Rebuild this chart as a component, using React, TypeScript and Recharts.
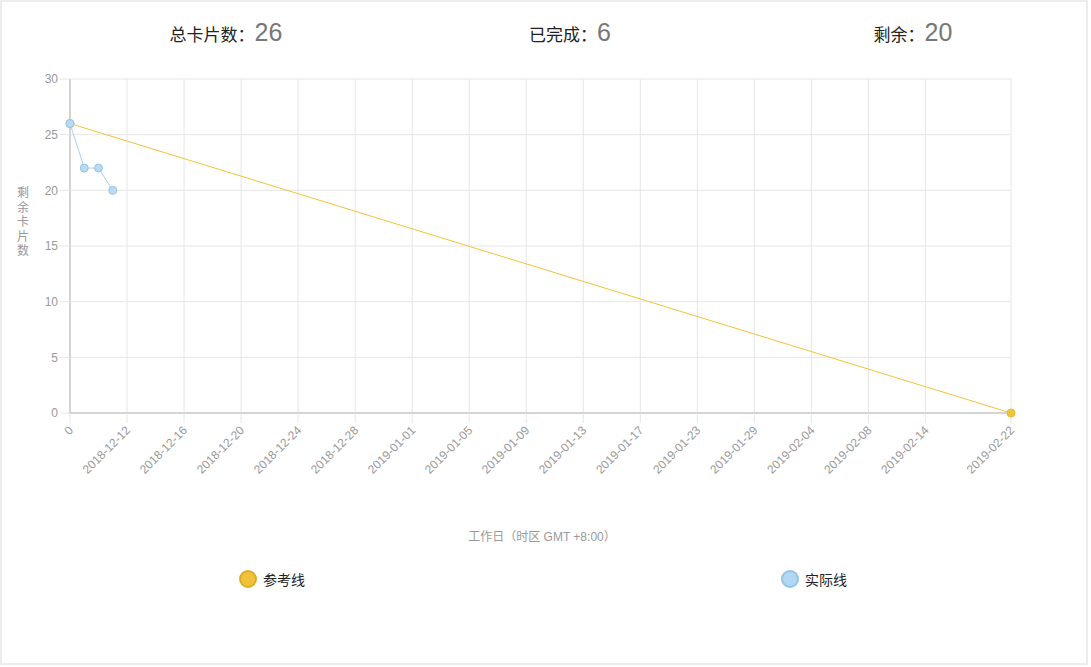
import * as React from "react";
import { LineChart, Line, XAxis, YAxis, CartesianGrid } from "recharts";

// 工作日 categories (first entry is the start point "0")
const days = [
  "0", "2018-12-09", "2018-12-10", "2018-12-11", "2018-12-12", "2018-12-13", "2018-12-14",
  "2018-12-15", "2018-12-16", "2018-12-17", "2018-12-18", "2018-12-19", "2018-12-20",
  "2018-12-21", "2018-12-22", "2018-12-23", "2018-12-24", "2018-12-25", "2018-12-26",
  "2018-12-27", "2018-12-28", "2018-12-29", "2018-12-30", "2018-12-31", "2019-01-01",
  "2019-01-02", "2019-01-03", "2019-01-04", "2019-01-05", "2019-01-06", "2019-01-07",
  "2019-01-08", "2019-01-09", "2019-01-10", "2019-01-11", "2019-01-12", "2019-01-13",
  "2019-01-14", "2019-01-15", "2019-01-16", "2019-01-17", "2019-01-18", "2019-01-21",
  "2019-01-22", "2019-01-23", "2019-01-24", "2019-01-25", "2019-01-28", "2019-01-29",
  "2019-01-30", "2019-01-31", "2019-02-01", "2019-02-04", "2019-02-05", "2019-02-06",
  "2019-02-07", "2019-02-08", "2019-02-11", "2019-02-12", "2019-02-13", "2019-02-14",
  "2019-02-15", "2019-02-18", "2019-02-19", "2019-02-20", "2019-02-21", "2019-02-22",
];

const shownTicks = [
  "0", "2018-12-12", "2018-12-16", "2018-12-20", "2018-12-24", "2018-12-28",
  "2019-01-01", "2019-01-05", "2019-01-09", "2019-01-13", "2019-01-17", "2019-01-23",
  "2019-01-29", "2019-02-04", "2019-02-08", "2019-02-14", "2019-02-22",
];

// 参考线: start and end only
const referencePoints: Record<string, number> = { "0": 26, "2019-02-22": 0 };
// 实际线: remaining cards on the first days
const actualValues = [26, 22, 22, 20];

const yTicks = [0, 5, 10, 15, 20, 25, 30];

const stats = [
  { label: "总卡片数：", value: 26, x: 224 },
  { label: "已完成：", value: 6, x: 568 },
  { label: "剩余：", value: 20, x: 911 },
];

const REF_COLOR = "#f0c33c";
const ACT_COLOR = "#a9d2f2";
const FONT = '"Liberation Sans", Arial, "Noto Sans CJK SC", sans-serif';

const data = days.map((d, i) => ({
  day: d,
  ref: referencePoints[d],
  actual: i < actualValues.length ? actualValues[i] : undefined,
}));

const XTick = (props: any) => {
  const { x, y, payload } = props;
  return (
    <text
      x={x + 4}
      y={y + 6}
      transform={`rotate(-45 ${x + 4} ${y + 6})`}
      textAnchor="end"
      fontSize={12}
      fill="#999"
      fontFamily={FONT}
    >
      {payload.value}
    </text>
  );
};

const App: React.FC = () => {
  return (
    <div
      style={{
        position: "absolute",
        left: 0,
        top: 0,
        width: 1088,
        height: 665,
        border: "2px solid #ececec",
        boxSizing: "border-box",
        background: "#fff",
        fontFamily: FONT,
      }}
    >
      {stats.map((s) => (
        <div
          key={s.label}
          style={{
            position: "absolute",
            left: s.x - 150,
            width: 300,
            top: 16,
            textAlign: "center",
            whiteSpace: "nowrap",
          }}
        >
          <span style={{ fontSize: 17, color: "#222" }}>{s.label}</span>
          <span style={{ fontSize: 25, color: "#777" }}>{s.value}</span>
        </div>
      ))}

      <div
        style={{
          position: "absolute",
          left: 14,
          top: 184,
          width: 14,
          fontSize: 12,
          lineHeight: "14.5px",
          color: "#999",
          textAlign: "center",
        }}
      >
        {"剩余卡片数".split("").map((c, i) => (
          <div key={i}>{c}</div>
        ))}
      </div>

      <div style={{ position: "absolute", left: -1, top: -2 }}>
        <LineChart
          width={1091}
          height={520}
          data={data}
          margin={{ top: 79, right: 81, bottom: 17, left: 0 }}
        >
          <CartesianGrid stroke="#e6e6e6" strokeWidth={1} />
          <XAxis
            dataKey="day"
            ticks={shownTicks}
            interval={0}
            height={90}
            tick={<XTick />}
            tickSize={10}
            tickLine={{ stroke: "#e6e6e6" }}
            axisLine={{ stroke: "#b5b5b5" }}
          />
          <YAxis
            domain={[0, 30]}
            ticks={yTicks}
            width={69}
            tickSize={10}
            tickMargin={2}
            tickLine={{ stroke: "#e6e6e6" }}
            axisLine={{ stroke: "#b5b5b5" }}
            tick={{ fontSize: 12, fill: "#999", fontFamily: FONT }}
          />
          <Line
            dataKey="ref"
            stroke={REF_COLOR}
            strokeWidth={1}
            connectNulls
            dot={{ r: 4, fill: REF_COLOR, stroke: "#e8b830", strokeWidth: 1 }}
            isAnimationActive={false}
          />
          <Line
            dataKey="actual"
            stroke={ACT_COLOR}
            strokeWidth={1}
            dot={{ r: 4, fill: "#b8dbf5", stroke: "#96c4ea", strokeWidth: 1 }}
            isAnimationActive={false}
          />
        </LineChart>
      </div>

      <div
        style={{
          position: "absolute",
          left: 0,
          width: 1080,
          top: 525,
          textAlign: "center",
          fontSize: 12,
          color: "#999",
        }}
      >
        工作日（时区 GMT +8:00）
      </div>

      {[
        { name: "参考线", color: "#efc23a", border: "#dcae28", x: 237 },
        { name: "实际线", color: "#b3d8f4", border: "#93c2e8", x: 779 },
      ].map((l) => (
        <div
          key={l.name}
          style={{
            position: "absolute",
            left: l.x,
            top: 567,
            display: "flex",
            alignItems: "center",
            fontSize: 14,
            color: "#222",
          }}
        >
          <span
            style={{
              width: 14,
              height: 14,
              borderRadius: "50%",
              background: l.color,
              border: `2px solid ${l.border}`,
              display: "inline-block",
              marginRight: 6,
            }}
          />
          {l.name}
        </div>
      ))}
    </div>
  );
};

export default App;
